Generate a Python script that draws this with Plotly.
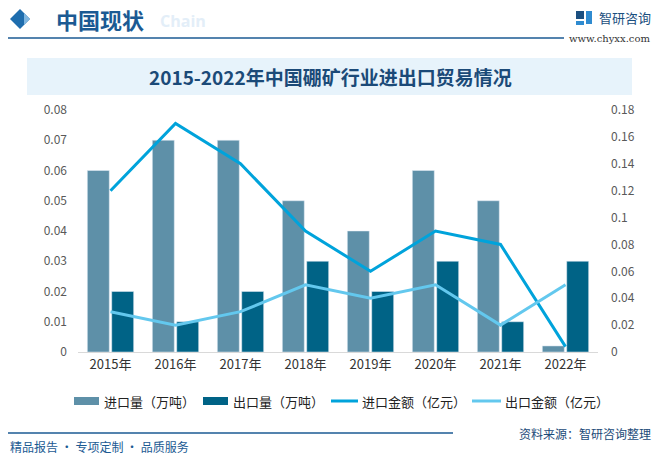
import plotly.graph_objects as go

years = ["2015年", "2016年", "2017年", "2018年", "2019年", "2020年", "2021年", "2022年"]
import_volume = [0.06, 0.07, 0.07, 0.05, 0.04, 0.06, 0.05, 0.002]
export_volume = [0.02, 0.01, 0.02, 0.03, 0.02, 0.03, 0.01, 0.03]
import_value = [0.12, 0.17, 0.14, 0.09, 0.06, 0.09, 0.08, 0.004]
export_value = [0.03, 0.02, 0.03, 0.05, 0.04, 0.05, 0.02, 0.05]
left_ticks = [0, 0.01, 0.02, 0.03, 0.04, 0.05, 0.06, 0.07, 0.08]
left_ticktext = ["0", "0.01", "0.02", "0.03", "0.04", "0.05", "0.06", "0.07", "0.08"]
right_ticks = [0, 0.02, 0.04, 0.06, 0.08, 0.1, 0.12, 0.14, 0.16, 0.18]
right_ticktext = ["0", "0.02", "0.04", "0.06", "0.08", "0.1", "0.12", "0.14", "0.16", "0.18"]
names = ["进口量（万吨）", "出口量（万吨）", "进口金额（亿元）", "出口金额（亿元）"]

C_IMP_BAR = "#5E90A8"
C_EXP_BAR = "#006386"
C_IMP_LINE = "#00A3DB"
C_EXP_LINE = "#63C8EE"
DARK = "#1B5A93"
FONT = "Noto Sans CJK SC"

W, H = 658, 457
L, R, T, B = 78, 598, 110, 352


def px(x):
    return (x - L) / (R - L)


def py(y):
    return (B - y) / (B - T)


fig = go.Figure()
fig.add_trace(go.Bar(x=years, y=import_volume, name=names[0], marker_color=C_IMP_BAR,
                     showlegend=False, yaxis="y"))
fig.add_trace(go.Bar(x=years, y=export_volume, name=names[1], marker_color=C_EXP_BAR,
                     showlegend=False, yaxis="y"))
fig.add_trace(go.Scatter(x=years, y=import_value, name=names[2], mode="lines",
                         line=dict(color=C_IMP_LINE, width=3), showlegend=False, yaxis="y2"))
fig.add_trace(go.Scatter(x=years, y=export_value, name=names[3], mode="lines",
                         line=dict(color=C_EXP_LINE, width=3), showlegend=False, yaxis="y2"))

shapes = []
annotations = []

# header
shapes.append(dict(type="path", xref="paper", yref="paper",
                   path=f"M {px(10)} {py(19)} L {px(20)} {py(9)} L {px(30)} {py(19)} L {px(20)} {py(29)} Z",
                   fillcolor="#1E6DAE", line=dict(width=0)))
shapes.append(dict(type="path", xref="paper", yref="paper",
                   path=f"M {px(24)} {py(13)} L {px(30)} {py(19)} L {px(24)} {py(25)} Z",
                   fillcolor="#7FB6E0", line=dict(width=0)))
annotations.append(dict(text="<b>中国现状</b>", x=px(54), y=py(19), xref="paper", yref="paper",
                        xanchor="left", yanchor="middle", showarrow=False,
                        font=dict(family=FONT, size=22, color=DARK)))
annotations.append(dict(text="<b>Chain</b>", x=px(158), y=py(21), xref="paper", yref="paper",
                        xanchor="left", yanchor="middle", showarrow=False,
                        font=dict(family="Open Sans", size=16, color="#E3EEF8")))
shapes.append(dict(type="line", xref="paper", yref="paper", x0=px(8), x1=px(564), y0=py(38), y1=py(38),
                   line=dict(color=DARK, width=1.5)))
# logo
shapes.append(dict(type="rect", xref="paper", yref="paper", x0=px(576), x1=px(584), y0=py(11), y1=py(19),
                   fillcolor="#1B4F80", line=dict(width=0)))
shapes.append(dict(type="rect", xref="paper", yref="paper", x0=px(586), x1=px(592), y0=py(11), y1=py(24),
                   fillcolor="#2F8BD0", line=dict(width=0)))
shapes.append(dict(type="rect", xref="paper", yref="paper", x0=px(576), x1=px(584), y0=py(21), y1=py(25),
                   fillcolor="#2F8BD0", line=dict(width=0)))
annotations.append(dict(text="智研咨询", x=px(597), y=py(18), xref="paper", yref="paper",
                        xanchor="left", yanchor="middle", showarrow=False,
                        font=dict(family=FONT, size=13, color="#1B4F80")))
annotations.append(dict(text="www.chyxx.com", x=px(652), y=py(38), xref="paper", yref="paper",
                        xanchor="right", yanchor="middle", showarrow=False,
                        font=dict(family="DejaVu Serif", size=10, color="#333333")))

# title band
shapes.append(dict(type="rect", xref="paper", yref="paper", x0=px(27), x1=px(632), y0=py(58), y1=py(95),
                   fillcolor="#E7F3FB", line=dict(width=0), layer="below"))
annotations.append(dict(text="<b>2015-2022年中国硼矿行业进出口贸易情况</b>", x=px(330), y=py(77),
                        xref="paper", yref="paper", xanchor="center", yanchor="middle", showarrow=False,
                        font=dict(family=FONT, size=19, color="#1B4A78")))

# legend (manual)
ly = 401
shapes.append(dict(type="rect", xref="paper", yref="paper", x0=px(74), x1=px(99), y0=py(ly - 4), y1=py(ly + 4),
                   fillcolor=C_IMP_BAR, line=dict(width=0)))
annotations.append(dict(text=names[0], x=px(102), y=py(ly), xref="paper", yref="paper", xanchor="left",
                        yanchor="middle", showarrow=False, font=dict(family=FONT, size=13, color="#222222")))
shapes.append(dict(type="rect", xref="paper", yref="paper", x0=px(203), x1=px(228), y0=py(ly - 4), y1=py(ly + 4),
                   fillcolor=C_EXP_BAR, line=dict(width=0)))
annotations.append(dict(text=names[1], x=px(231), y=py(ly), xref="paper", yref="paper", xanchor="left",
                        yanchor="middle", showarrow=False, font=dict(family=FONT, size=13, color="#222222")))
shapes.append(dict(type="line", xref="paper", yref="paper", x0=px(331), x1=px(358), y0=py(ly), y1=py(ly),
                   line=dict(color=C_IMP_LINE, width=3)))
annotations.append(dict(text=names[2], x=px(360), y=py(ly), xref="paper", yref="paper", xanchor="left",
                        yanchor="middle", showarrow=False, font=dict(family=FONT, size=13, color="#222222")))
shapes.append(dict(type="line", xref="paper", yref="paper", x0=px(472), x1=px(501), y0=py(ly), y1=py(ly),
                   line=dict(color=C_EXP_LINE, width=3)))
annotations.append(dict(text=names[3], x=px(503), y=py(ly), xref="paper", yref="paper", xanchor="left",
                        yanchor="middle", showarrow=False, font=dict(family=FONT, size=13, color="#222222")))

# footer
shapes.append(dict(type="line", xref="paper", yref="paper", x0=px(8), x1=px(453), y0=py(433), y1=py(433),
                   line=dict(color=DARK, width=1.5)))
annotations.append(dict(text="精品报告 · 专项定制 · 品质服务", x=px(8), y=py(446), xref="paper", yref="paper",
                        xanchor="left", yanchor="middle", showarrow=False,
                        font=dict(family=FONT, size=12, color=DARK)))
annotations.append(dict(text="资料来源：智研咨询整理", x=px(653), y=py(433), xref="paper", yref="paper",
                        xanchor="right", yanchor="middle", showarrow=False,
                        font=dict(family=FONT, size=12, color="#1B4A78")))

fig.update_layout(
    width=W, height=H,
    margin=dict(l=L, r=W - R, t=T, b=H - B),
    paper_bgcolor="white", plot_bgcolor="rgba(0,0,0,0)",
    barmode="group", bargap=0.25, bargroupgap=0.1,
    showlegend=False,
    font=dict(family=FONT, color="#595959"),
    xaxis=dict(showgrid=False, showline=True, linecolor="#D9D9D9", linewidth=1, ticks="",
               tickfont=dict(size=13, color="#333333"), zeroline=False),
    yaxis=dict(range=[0, 0.08], tickvals=left_ticks, ticktext=left_ticktext, showgrid=False,
               zeroline=False, showline=False, ticks="", ticklabelstandoff=10,
               tickfont=dict(size=12, color="#595959")),
    yaxis2=dict(range=[0, 0.18], tickvals=right_ticks, ticktext=right_ticktext, overlaying="y",
                side="right", showgrid=False, zeroline=False, showline=False, ticks="",
                ticklabelstandoff=12, tickfont=dict(size=12, color="#595959")),
    shapes=shapes,
    annotations=annotations,
)

fig.write_html("out.html", config={"displayModeBar": False},
               post_script="document.body.style.margin='0';document.body.style.overflow='hidden';")
